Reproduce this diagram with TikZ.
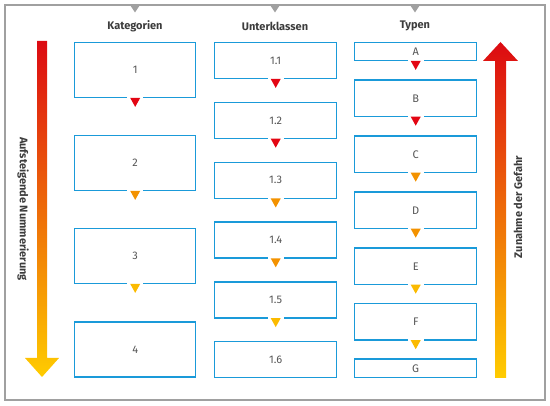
\documentclass[tikz,border=0pt]{standalone}
\usepackage{fontspec}
\setmainfont{Fira Sans}
\usetikzlibrary{calc}
\definecolor{boxblue}{HTML}{1A9AD9}
\definecolor{framegray}{HTML}{A0A0A0}
\definecolor{txtgray}{HTML}{3C3C3C}
\definecolor{lblgray}{HTML}{555555}
\definecolor{tred}{HTML}{E30613}
\definecolor{torange}{HTML}{F39200}
\definecolor{tyellow}{HTML}{FBBA00}
\definecolor{gred}{HTML}{DC0A12}
\definecolor{gorange}{HTML}{EA6A06}
\definecolor{gyellow}{HTML}{FFCC00}
\newcommand\gtri[2]{%
  \fill[white] ($(#1.south)+(-8,-1.6)$) rectangle ($(#1.south)+(8,1.6)$);
  \fill[#2] ($(#1.south)+(-5,-0.5)$) -- ($(#1.south)+(5,-0.5)$) -- ($(#1.south)+(0,8.5)$) -- cycle;}
\begin{document}
\begin{tikzpicture}[x=1pt,y=-1pt,
  catbox/.style={draw=boxblue,line width=1.4pt,inner sep=0pt,anchor=north west,
    minimum width=121pt,font=\fontsize{11}{13}\selectfont,text=lblgray},
  hdr/.style={font=\fontsize{11}{13}\selectfont\bfseries,text=txtgray},
  sidetxt/.style={font=\fontsize{11}{13}\selectfont\bfseries,text=txtgray}]
\useasboundingbox (0,0) rectangle (550,406);
% frame
\draw[framegray,line width=2pt] (5,5) rectangle (545,400);
\foreach \xx in {135,275,415}
  \fill[framegray] (\xx-5,5) -- (\xx+5,5) -- (\xx,12.5) -- cycle;
% headers
\node[hdr] (hk) at (135,26) {Kategorien};
\node[hdr] (hu) at (275,26) {Unterklassen};
\node[hdr] (ht) at (415,26) {Typen};
% Kategorien
\node[catbox,minimum height=55pt] (k1) at (74,42) {1};
\node[catbox,minimum height=55pt] (k2) at (74,135) {2};
\node[catbox,minimum height=55pt] (k3) at (74,228) {3};
\node[catbox,minimum height=55pt] (k4) at (74,321.5) {4};
\gtri{k1}{tred}
\gtri{k2}{torange}
\gtri{k3}{tyellow}
% Unterklassen
\node[catbox,minimum height=36pt,minimum width=122pt] (u1) at (214,42) {1.1};
\node[catbox,minimum height=36pt,minimum width=122pt] (u2) at (214,101.8) {1.2};
\node[catbox,minimum height=36pt,minimum width=122pt] (u3) at (214,161.6) {1.3};
\node[catbox,minimum height=36pt,minimum width=122pt] (u4) at (214,221.4) {1.4};
\node[catbox,minimum height=36pt,minimum width=122pt] (u5) at (214,281.2) {1.5};
\node[catbox,minimum height=36pt,minimum width=122pt] (u6) at (214,341) {1.6};
\gtri{u1}{tred}
\gtri{u2}{tred}
\gtri{u3}{torange}
\gtri{u4}{torange}
\gtri{u5}{tyellow}
% Typen
\node[catbox,minimum height=18pt,minimum width=122pt] (ta) at (354,42) {A};
\node[catbox,minimum height=36.5pt,minimum width=122pt] (tb) at (354,79.3) {B};
\node[catbox,minimum height=36.5pt,minimum width=122pt] (tc) at (354,135.3) {C};
\node[catbox,minimum height=36.5pt,minimum width=122pt] (td) at (354,191.3) {D};
\node[catbox,minimum height=36.5pt,minimum width=122pt] (te) at (354,247.3) {E};
\node[catbox,minimum height=36.5pt,minimum width=122pt] (tf) at (354,302.8) {F};
\node[catbox,minimum height=18.5pt,minimum width=122pt] (tg) at (354,358.3) {G};
\gtri{ta}{tred}
\gtri{tb}{tred}
\gtri{tc}{torange}
\gtri{td}{torange}
\gtri{te}{tyellow}
\gtri{tf}{tyellow}
% left arrow
\shade[top color=gred,middle color=gorange,bottom color=gyellow]
  (37,41) -- (47,41) -- (47,358) -- (59,358) -- (42,377) -- (25,358) -- (37,358) -- cycle;
% right arrow
\shade[top color=gred,middle color=gorange,bottom color=gyellow]
  (500.5,42) -- (518,61) -- (506,61) -- (506,378) -- (495,378) -- (495,61) -- (483,61) -- cycle;
% side texts
\node[sidetxt,rotate=-90] (ls) at (23,209) {Aufsteigende Nummerierung};
\node[sidetxt,rotate=90] (rs) at (518,207) {Zunahme der Gefahr};
\end{tikzpicture}
\end{document}
